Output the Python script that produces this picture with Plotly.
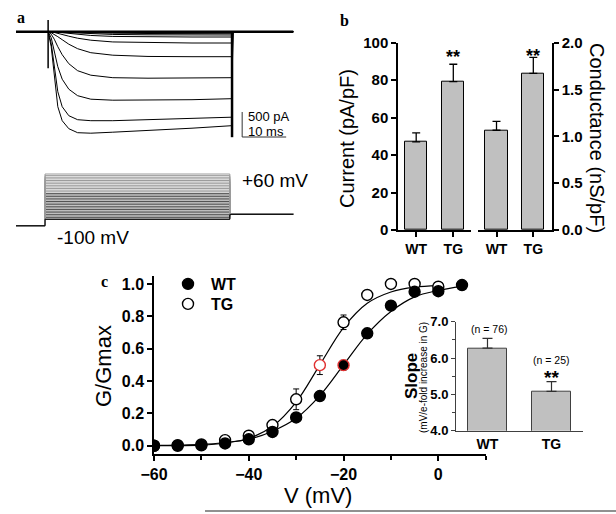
import plotly.graph_objects as go

W, H = 616, 514
FONT = "Liberation Sans"
SERIF = "Liberation Serif"

# ---------------- Panel a : current traces (ms, pA) ----------------
trace_time_ms = [0, 7.3, 8.0, 8.7, 9.5, 10.5, 12, 14, 17, 22, 30, 40, 49.0, 49.3, 63]
trace_current_pA = [
    [0, 0, -300, -850, -1500, -1780, -1940, -2020, -2030, -2010, -1980, -1930, -1880, 0, 0],
    [0, 0, -230, -680, -1200, -1500, -1680, -1760, -1780, -1780, -1760, -1740, -1710, 0, 0],
    [0, 0, -120, -380, -700, -950, -1150, -1280, -1350, -1370, -1370, -1360, -1340, 0, 0],
    [0, 0, -50, -150, -300, -460, -640, -780, -870, -920, -930, -930, -920, 0, 0],
    [0, 0, -20, -50, -100, -160, -250, -340, -420, -470, -495, -500, -500, 0, 0],
    [0, 0, -5, -15, -35, -55, -90, -130, -170, -205, -220, -226, -226, 0, 0],
    [0, 0, -2, -6, -12, -20, -35, -55, -75, -95, -103, -106, -106, 0, 0],
    [0, 0, -1, -3, -6, -10, -18, -28, -40, -55, -62, -66, -66, 0, 0],
    [0, 0, 0, -1, -3, -5, -9, -15, -22, -30, -36, -40, -40, 0, 0],
    [0, 0, 0, 0, -1, -2, -4, -7, -10, -14, -18, -20, -20, 0, 0],
]
onset_spike_ms = [7.3, 7.3]
onset_spike_pA = [234, -730]
offset_tail_ms = [49.1, 49.1]
offset_tail_pA = [0, -2110]
scale_bar_pA = 500
scale_bar_ms = 10

# voltage protocol (mV)
holding_mV = -100
post_mV = -65
step_mV = [-80, -75, -70, -65, -60, -55, -50, -45, -40, -35, -30, -25, -20, -15, -10,
           -5, 0, 5, 10, 15, 20, 25, 30, 35, 40, 45, 50, 55, 60]
step_on_ms = 6.6
step_off_ms = 48.6
protocol_end_ms = 63

# ---------------- Panel b ----------------
groups = ["WT", "TG"]
current_density = [47.1, 79.2]
current_sem = [4.8, 9.3]
conductance = [1.065, 1.673]
conductance_sem = [0.095, 0.171]

# ---------------- Panel c ----------------
V_wt = [-60, -55, -50, -45, -40, -35, -30, -25, -20, -15, -10, -5, 0, 5]
G_wt = [0.0, 0.0, 0.003, 0.014, 0.04, 0.085, 0.175, 0.307, 0.498, 0.695, 0.866, 0.952, 0.955, 0.993]
G_wt_err = [0, 0, 0, 0.004, 0.006, 0.01, 0.015, 0.02, 0.03, 0.03, 0.02, 0.012, 0.01, 0.008]
V_tg = [-60, -55, -50, -45, -40, -35, -30, -25, -20, -15, -10, -5, 0]
G_tg = [0.0, 0.004, 0.008, 0.035, 0.062, 0.128, 0.287, 0.498, 0.763, 0.932, 1.0, 1.0, 0.983]
G_tg_err = [0, 0, 0, 0.008, 0.01, 0.02, 0.064, 0.058, 0.045, 0.02, 0.01, 0.01, 0.01]
# fitted Boltzmann curves
Vfit_wt = [-60, -55, -50, -45, -40, -35, -30, -25, -20, -15, -10, -5, 0, 5]
Gfit_wt = [0.002, 0.004, 0.008, 0.02, 0.04, 0.09, 0.17, 0.31, 0.5, 0.69, 0.83, 0.92, 0.96, 0.985]
Vfit_tg = [-60, -55, -50, -45, -40, -35, -30, -25, -20, -15, -10, -5, 0]
Gfit_tg = [0.0, 0.001, 0.004, 0.017, 0.045, 0.12, 0.27, 0.5, 0.73, 0.88, 0.95, 0.98, 0.99]

# inset
slope = [6.27, 5.08]
slope_sem = [0.27, 0.27]
n_cells = ["(n = 76)", "(n = 25)"]


def xd(p0, p1):
    return [p0 / W, p1 / W]


def yd(top, bottom):
    return [1 - bottom / H, 1 - top / H]


def PX(x):
    return x / W


def PY(y):
    return 1 - y / H


fig = go.Figure()
blk = dict(color="black", width=1)

# ---- panel a traces
for cur in trace_current_pA:
    fig.add_trace(go.Scatter(x=trace_time_ms, y=cur, mode="lines", line=blk,
                             xaxis="x", yaxis="y", showlegend=False, hoverinfo="skip"))
fig.add_trace(go.Scatter(x=[trace_time_ms[0], trace_time_ms[-1]], y=[0, 0], mode="lines",
                         line=dict(color="black", width=2.4), xaxis="x", yaxis="y",
                         showlegend=False, hoverinfo="skip"))
fig.add_trace(go.Scatter(x=onset_spike_ms, y=onset_spike_pA, mode="lines",
                         line=dict(color="black", width=1.5), xaxis="x", yaxis="y",
                         showlegend=False, hoverinfo="skip"))
fig.add_trace(go.Scatter(x=offset_tail_ms, y=offset_tail_pA, mode="lines",
                         line=dict(color="black", width=2.5), xaxis="x", yaxis="y",
                         showlegend=False, hoverinfo="skip"))
sb_t, sb_top = 51.4, -1606
fig.add_trace(go.Scatter(x=[sb_t, sb_t, sb_t + scale_bar_ms],
                         y=[sb_top, sb_top - scale_bar_pA, sb_top - scale_bar_pA],
                         mode="lines", line=dict(color="#333333", width=1), xaxis="x", yaxis="y",
                         showlegend=False, hoverinfo="skip"))

# ---- protocol
for lo, hi, col in [(-80, 0, "#505050"), (5, 60, "#9a9a9a")]:
    px_l, py_l = [], []
    for L in step_mV:
        if lo <= L <= hi:
            px_l += [0, step_on_ms, step_on_ms, step_off_ms, step_off_ms, protocol_end_ms, None]
            py_l += [holding_mV, holding_mV, L, L, post_mV, post_mV, None]
    fig.add_trace(go.Scatter(x=px_l, y=py_l, mode="lines", line=dict(color=col, width=1),
                             xaxis="x2", yaxis="y2", showlegend=False, hoverinfo="skip"))
fig.add_trace(go.Scatter(x=[0, step_on_ms, step_on_ms, step_off_ms, step_off_ms, protocol_end_ms],
                         y=[holding_mV, holding_mV, step_mV[0], step_mV[0], post_mV, post_mV],
                         mode="lines", line=dict(color="black", width=1),
                         xaxis="x2", yaxis="y2", showlegend=False, hoverinfo="skip"))

# ---- panel b
barstyle = dict(color="#c0c0c0", line=dict(color="black", width=1))
fig.add_trace(go.Bar(x=groups, y=current_density, width=0.6, marker=barstyle,
                     error_y=dict(type="data", symmetric=False, array=current_sem,
                                  arrayminus=[0, 0], color="black", thickness=1.3, width=4),
                     xaxis="x3", yaxis="y3", showlegend=False))
fig.add_trace(go.Bar(x=groups, y=conductance, width=0.6, marker=barstyle,
                     error_y=dict(type="data", symmetric=False, array=conductance_sem,
                                  arrayminus=[0, 0], color="black", thickness=1.3, width=4),
                     xaxis="x4", yaxis="y4", showlegend=False))

# ---- panel c
fig.add_trace(go.Scatter(x=Vfit_wt, y=Gfit_wt, mode="lines", line=dict(color="black", width=1.2, shape="spline"),
                         xaxis="x5", yaxis="y5", showlegend=False, hoverinfo="skip"))
fig.add_trace(go.Scatter(x=Vfit_tg, y=Gfit_tg, mode="lines", line=dict(color="black", width=1.2, shape="spline"),
                         xaxis="x5", yaxis="y5", showlegend=False, hoverinfo="skip"))
wt_line = ["black"] * len(V_wt)
wt_line[V_wt.index(-20)] = "#e03030"
tg_line = ["black"] * len(V_tg)
tg_line[V_tg.index(-25)] = "#e03030"
fig.add_trace(go.Scatter(x=V_tg, y=G_tg, mode="markers", name="TG",
                         marker=dict(symbol="circle", size=11, color="white",
                                     line=dict(color=tg_line, width=1.4)),
                         error_y=dict(type="data", array=G_tg_err, color="black", thickness=1, width=3),
                         xaxis="x5", yaxis="y5", legend="legend2"))
fig.add_trace(go.Scatter(x=V_wt, y=G_wt, mode="markers", name="WT",
                         marker=dict(symbol="circle", size=11, color="black",
                                     line=dict(color=wt_line, width=1.4)),
                         error_y=dict(type="data", array=G_wt_err, color="black", thickness=1, width=3),
                         xaxis="x5", yaxis="y5", legend="legend"))

# ---- inset
fig.add_trace(go.Bar(x=groups, y=slope, width=0.6,
                     marker=dict(color="#c0c0c0", line=dict(color="#404040", width=1)),
                     error_y=dict(type="data", symmetric=False, array=slope_sem,
                                  arrayminus=[0, 0], color="#303030", thickness=1.2, width=5),
                     xaxis="x6", yaxis="y6", showlegend=False))

tf_b = dict(family=FONT, size=15, color="black", weight="bold")
tf_x = dict(family=FONT, size=14, color="black", weight="bold")
common = dict(showgrid=False, zeroline=False, showline=True, linecolor="black", linewidth=1.5,
              ticks="outside", tickcolor="black", tickwidth=1.5, ticklen=5)
hidden = dict(visible=False, showgrid=False, zeroline=False)
leg_common = dict(xanchor="left", yanchor="middle", bgcolor="rgba(0,0,0,0)",
                  font=dict(family=FONT, size=16, color="black", weight="bold"),
                  itemwidth=36, tracegroupgap=0)

fig.update_layout(
    width=W, height=H, margin=dict(l=0, r=0, t=0, b=0),
    paper_bgcolor="white", plot_bgcolor="rgba(0,0,0,0)",
    font=dict(family=FONT, color="black"),
    template="none",
    bargap=0,
    xaxis=dict(domain=xd(0, 300), range=[-3.636, 64.545], anchor="y", **hidden),
    yaxis=dict(domain=yd(0, 150), range=[-2366, 634], anchor="x", **hidden),
    xaxis2=dict(domain=xd(0, 300), range=[-3.636, 64.545], anchor="y2", **hidden),
    yaxis2=dict(domain=yd(160, 260), range=[-206.2, 103.4], anchor="x2", **hidden),
    xaxis3=dict(domain=xd(398, 471), range=[-0.49, 1.477], type="category", anchor="y3",
                tickfont=tf_x, **common),
    yaxis3=dict(domain=yd(42.7, 230), range=[0, 100], dtick=20, anchor="x3",
                tickfont=tf_b, **common),
    xaxis4=dict(domain=xd(478, 552), range=[-0.503, 1.508], type="category", anchor="y4",
                tickfont=tf_x, **common),
    yaxis4=dict(domain=yd(42.7, 230), range=[0, 2], dtick=0.5, tickformat=".1f", side="right",
                anchor="x4", tickfont=tf_b, **common),
    xaxis5=dict(domain=xd(154, 485.7), range=[-60, 10], tickvals=[-60, -40, -20, 0], anchor="y5",
                minor=dict(dtick=10, ticklen=4, ticks="outside", tickcolor="black", tickwidth=1.5),
                tickfont=dict(family=FONT, size=16, color="black", weight="bold"), **common),
    yaxis5=dict(domain=yd(276, 454), range=[-0.051, 1.049], tickvals=[0, 0.2, 0.4, 0.6, 0.8, 1.0],
                tickformat=".1f", anchor="x5",
                tickfont=dict(family=FONT, size=16, color="black", weight="bold"), **common),
    xaxis6=dict(domain=xd(456, 582.7), range=[-0.492, 1.4875], type="category", anchor="y6",
                tickfont=tf_x, showgrid=False, zeroline=False, showline=True, linecolor="#404040",
                linewidth=1, ticks="", ticklen=0),
    yaxis6=dict(domain=yd(321.7, 430.7), range=[4, 7], dtick=1, tickformat=".1f", anchor="x6",
                minor=dict(dtick=0.5, ticklen=3, ticks="outside", tickcolor="#404040"),
                tickfont=dict(family=FONT, size=13, color="black", weight="bold"),
                showgrid=False, zeroline=False, showline=True, linecolor="#404040", linewidth=1,
                ticks="outside", tickcolor="#404040", ticklen=4),
    legend=dict(x=PX(165), y=PY(284), **leg_common),
    legend2=dict(x=PX(165), y=PY(304), **leg_common),
)


def ann(text, x, y, size, angle=0, xanchor="center", family=FONT, weight="normal", color="black"):
    fig.add_annotation(text=text, x=PX(x), y=PY(y), xref="paper", yref="paper", showarrow=False,
                       textangle=angle, xanchor=xanchor, yanchor="middle",
                       font=dict(family=family, size=size, color=color, weight=weight))


ann("a", 21, 18, 16, family=SERIF, weight="bold")
ann("b", 344, 21, 16, family=SERIF, weight="bold")
ann("c", 105, 281, 16, family=SERIF, weight="bold")
ann("500 pA", 246, 117, 13, xanchor="left")
ann("10 ms", 246, 131, 13, xanchor="left")
ann("+60 mV", 240, 180, 19, xanchor="left")
ann("-100 mV", 55, 237, 19, xanchor="left")
ann("Current (pA/pF)", 347, 139, 20, angle=-90)
ann("Conductance (nS/pF)", 597, 138, 20, angle=90)
ann("**", 453.3, 57, 18, weight="bold")
ann("**", 533.3, 56, 18, weight="bold")
ann("G/Gmax", 103, 366, 22, angle=-90)
ann("V (mV)", 318, 495, 22)
ann("Slope", 411, 376, 17, angle=-90, weight="bold")
ann("(mV/e-fold increase in G)", 423, 378, 10, angle=-90)
ann(n_cells[0], 489, 329, 10.5)
ann(n_cells[1], 551, 360, 10.5)
ann("**", 551, 377, 19, weight="bold")

fig.add_shape(type="line", xref="paper", yref="paper", x0=PX(205), x1=1, y0=PY(511), y1=PY(511),
              line=dict(color="#909090", width=2))

fig.write_html("out.html", config={"displayModeBar": False},
               post_script="document.body.style.margin='0';document.body.style.padding='0';"
                           "document.body.style.overflow='hidden';")
